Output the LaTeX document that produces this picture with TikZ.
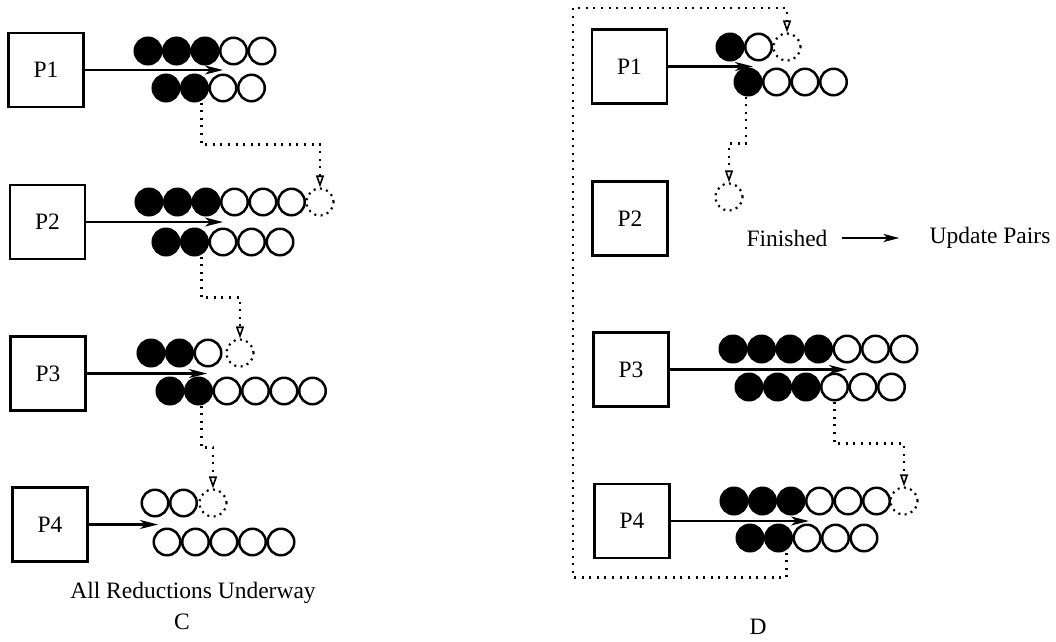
\documentclass[tikz,border=0pt]{standalone}
\usepackage{fontspec}
\setmainfont{Liberation Serif}
\usetikzlibrary{arrows.meta}
\tikzset{
  box/.style={draw, line width=2.6pt, minimum width=75pt, minimum height=74pt, inner sep=0pt, font=\fontsize{23.5}{28}\selectfont},
  bc/.style={circle, fill=black, draw=black, line width=2.5pt, minimum size=26.5pt, inner sep=0pt},
  wc/.style={circle, fill=white, draw=black, line width=2.5pt, minimum size=26.5pt, inner sep=0pt},
  dc/.style={circle, draw=black, line width=2.2pt, dash pattern=on 2pt off 4.4pt, minimum size=27pt, inner sep=0pt},
  arr/.style={line width=2.2pt, -{Stealth[length=18pt,width=9pt,inset=5pt]}},
  darr/.style={line width=2.2pt, dash pattern=on 2pt off 5.6pt, -{Triangle[open,length=12pt,width=8pt,line width=1.6pt]}},
  lbl/.style={inner sep=0pt, font=\fontsize{23.5}{28}\selectfont}
}
\newcommand{\beadrow}[5]{%
  \foreach \k in {1,...,#5}{%
    \ifnum\k>#4\relax
      \node[wc] (#1\k) at ({#2+(\k-1)*28.5},#3) {};
    \else
      \node[bc] (#1\k) at ({#2+(\k-1)*28.5},#3) {};
    \fi
  }%
}
\begin{document}
\begin{tikzpicture}[x=1pt,y=-1pt]
\useasboundingbox (0,0) rectangle (1056,641);

% ---------------- Panel C ----------------
\node[box] (lp1) at (46,70) {P1};
\node[box] (lp2) at (47.5,222) {P2};
\node[box] (lp3) at (48,373.5) {P3};
\node[box] (lp4) at (50,524.5) {P4};

\beadrow{l1a}{148}{51}{3}{5}
\beadrow{l1b}{166}{88}{2}{4}
\beadrow{l2a}{149}{202}{3}{6}
\node[dc] (l2d) at (320,202) {};
\beadrow{l2b}{166}{242}{2}{5}
\beadrow{l3a}{151}{353}{2}{3}
\node[dc] (l3d) at (240,353) {};
\beadrow{l3b}{170}{391}{2}{6}
\beadrow{l4a}{155}{503}{0}{2}
\node[dc] (l4d) at (213,503) {};
\beadrow{l4b}{167}{542}{0}{5}

\coordinate (le1) at (223,70);
\coordinate (le2) at (223,222);
\coordinate (le3) at (207,373.5);
\coordinate (le4) at (158,524.5);
\draw[arr] (lp1.east) -- (le1);
\draw[arr] (lp2.east) -- (le2);
\draw[arr] (lp3.east) -- (le3);
\draw[arr] (lp4.east) -- (le4);

\draw[darr] ([xshift=7pt]l1b2.south) -- ++(0,42) -| (l2d.north);
\draw[darr] ([xshift=7pt]l2b2.south) -- ++(0,41) -| (l3d.north);
\draw[darr] ([xshift=3pt]l3b2.south) -- ++(0,42) -| (l4d.north);

\node[lbl] (capC) at (193,593) {All Reductions Underway};
\node[lbl] (C) at (182,622) {C};

% ---------------- Panel D ----------------
\node[box] (rp1) at (629.5,66.5) {P1};
\node[box] (rp2) at (630,218.5) {P2};
\node[box] (rp3) at (631,369.5) {P3};
\node[box] (rp4) at (632,521) {P4};

\beadrow{r1a}{730}{47}{1}{2}
\node[dc] (r1d) at (787,47) {};
\beadrow{r1b}{748}{82}{1}{4}
\node[dc] (r2d) at (729,197) {};
\beadrow{r3a}{733}{349}{4}{7}
\beadrow{r3b}{749}{387}{3}{6}
\beadrow{r4a}{734}{501}{3}{6}
\node[dc] (r4d) at (904,501) {};
\beadrow{r4b}{750}{538}{2}{5}

\coordinate (re1) at (753,66.5);
\coordinate (re3) at (847,369.5);
\coordinate (re4) at (809,521);
\draw[arr] (rp1.east) -- (re1);
\draw[arr] (rp3.east) -- (re3);
\draw[arr] (rp4.east) -- (re4);

\draw[darr] ([xshift=-2pt]r1b1.south) -- ++(0,47) -| (r2d.north);
\draw[darr] (r3b4.south) -- ++(0,42) -| (r4d.north);
\coordinate (loopc) at (573,8);
\draw[darr] ([xshift=8pt]r4b2.south) -- ++(0,25) -| (loopc) -| (r1d.north);

\node[lbl] (fin) at (787,238) {Finished};
\node[lbl] (upd) at (990,238) {Update Pairs};
\draw[line width=2.2pt, -{Stealth[length=16pt,width=8pt,inset=4pt]}] ([xshift=14pt]fin.east) -- ([xshift=-30pt]upd.west);

\node[lbl] (D) at (758,627) {D};
\end{tikzpicture}
\end{document}
